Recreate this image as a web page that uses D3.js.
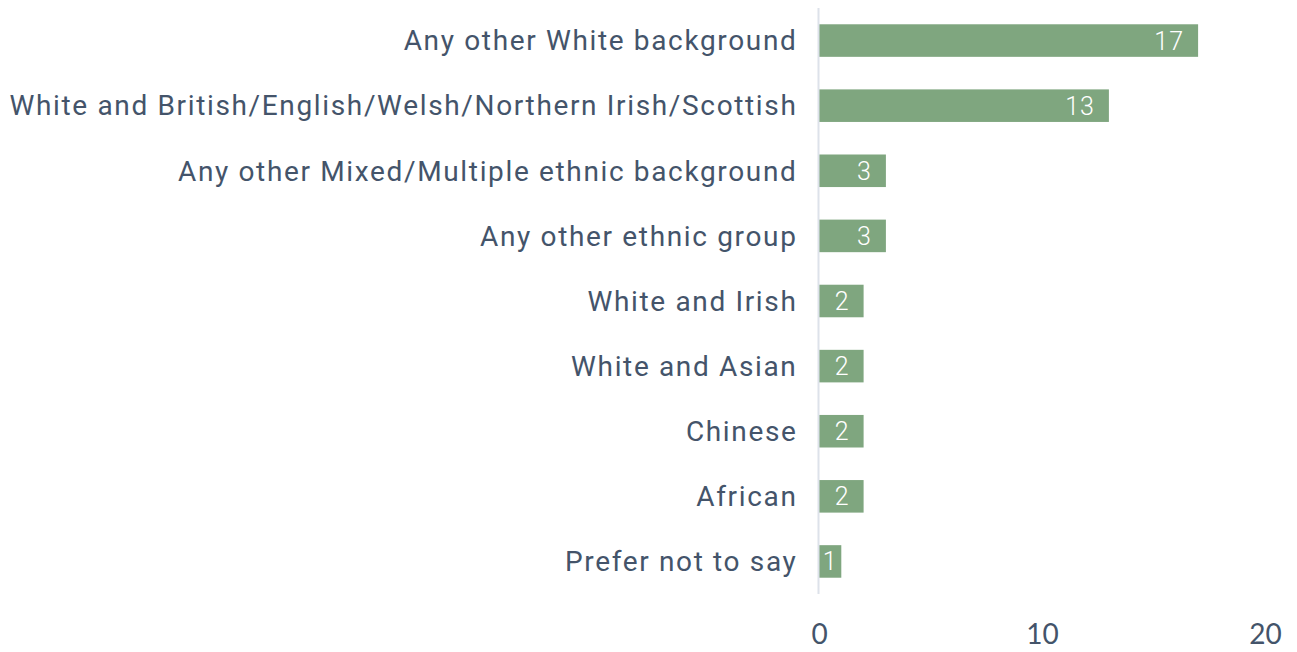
<!DOCTYPE html>
<html>
<head>
<meta charset="utf-8">
<style>
  body { margin: 0; background: #fff; }
  .cat-label { font-family: Roboto, sans-serif; font-size: 28px; font-weight: 400; fill: #44546a; letter-spacing: 1.65px; }
  .val-label { font-family: Roboto, sans-serif; font-size: 25px; font-weight: 300; fill: #fff; letter-spacing: 1px; }
  .x-axis text { font-family: Lato, sans-serif; font-size: 28px; fill: #44546a; }
</style>
</head>
<body>
<script src="https://d3js.org/d3.v7.min.js"></script>
<script>
    var categories = [
        "Any other White background",
        "White and British/English/Welsh/Northern Irish/Scottish",
        "Any other Mixed/Multiple ethnic background",
        "Any other ethnic group",
        "White and Irish",
        "White and Asian",
        "Chinese",
        "African",
        "Prefer not to say"
    ];
    var counts = [17, 13, 3, 3, 2, 2, 2, 2, 1];
    var tickValues = [0, 10, 20];

    var width = 1297, height = 652;
    var svg = d3.select("body").append("svg")
        .attr("width", width)
        .attr("height", height);

    var x = d3.scaleLinear().domain([0, 20]).range([819, 1265]);
    var y = d3.scaleBand().domain(categories).range([8, 594]).paddingInner(0.5).paddingOuter(0.25);

    // bars
    svg.append("g").selectAll("rect")
        .data(categories)
        .enter().append("rect")
          .attr("x", x(0))
          .attr("y", function(d) { return y(d); })
          .attr("width", function(d, i) { return x(counts[i]) - x(0); })
          .attr("height", y.bandwidth())
          .attr("fill", "#7fa67f");

    // axis line
    svg.append("line")
        .attr("x1", x(0) - 0.5).attr("x2", x(0) - 0.5)
        .attr("y1", 8).attr("y2", 594)
        .attr("stroke", "#dde2ea")
        .attr("stroke-width", 2);

    // category labels (letter-spacing adds a trailing gap, so shift right by it)
    svg.append("g").selectAll("text")
        .data(categories)
        .enter().append("text")
          .attr("class", "cat-label")
          .attr("x", 797.5)
          .attr("y", function(d) { return y(d) + y.bandwidth() / 2; })
          .attr("dy", "0.35em")
          .attr("text-anchor", "end")
          .text(function(d) { return d; });

    // value labels inside bars
    svg.append("g").selectAll("text")
        .data(categories)
        .enter().append("text")
          .attr("class", "val-label")
          .attr("x", function(d, i) {
              var w = x(counts[i]) - x(0);
              return w < 40 ? x(0) + w / 2 : x(counts[i]) - 14;
          })
          .attr("y", function(d) { return y(d) + y.bandwidth() / 2; })
          .attr("dy", "0.36em")
          .attr("text-anchor", function(d, i) { return (x(counts[i]) - x(0)) < 40 ? "middle" : "end"; })
          .text(function(d, i) { return counts[i]; });

    // x axis ticks
    var xAxis = d3.axisBottom(x).tickValues(tickValues).tickSize(0).tickPadding(0);
    svg.append("g")
        .attr("class", "x-axis")
        .attr("transform", "translate(0,624)")
        .call(xAxis)
        .call(function(g) { g.select(".domain").remove(); });
</script>
</body>
</html>
